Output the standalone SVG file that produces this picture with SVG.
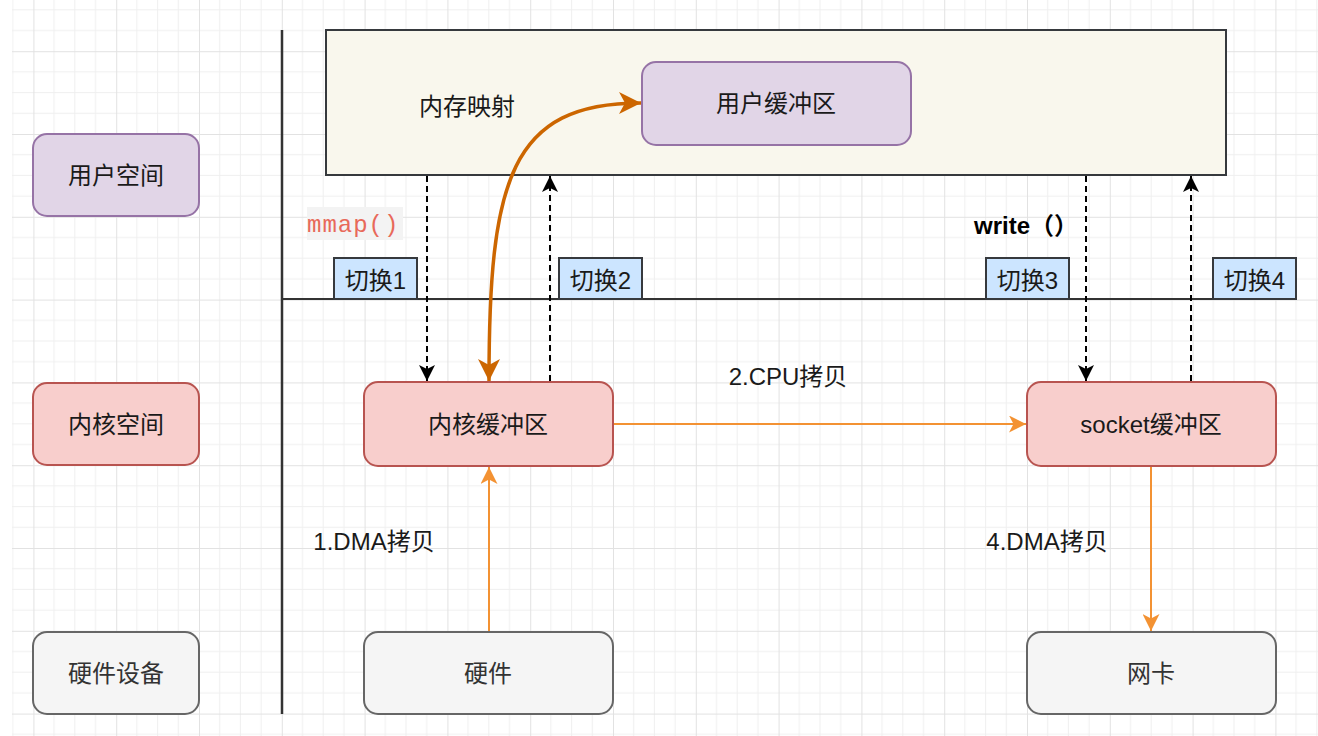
<svg xmlns="http://www.w3.org/2000/svg" width="1318" height="736" viewBox="0 0 1318 736">
<style>
.t{font-family:"Liberation Sans","Noto Sans CJK SC",sans-serif;font-size:24px;fill:#1a1a1a;text-anchor:middle}
.purple{fill:#e1d5e7;stroke:#9673a6;stroke-width:2}
.red{fill:#f8cecc;stroke:#b85450;stroke-width:2}
.grey{fill:#f5f5f5;stroke:#666666;stroke-width:2}
.sw{fill:#cce5ff;stroke:#36393d;stroke-width:2}
.dash{fill:none;stroke:#000;stroke-width:2;stroke-dasharray:6 4;marker-end:url(#ab)}
.org{fill:none;stroke:#f39233;stroke-width:2;marker-end:url(#ao)}
</style>
<defs>
<pattern id="grid" x="33.4" y="51.2" width="82.8" height="82.8" patternUnits="userSpaceOnUse">
<path d="M20.7,0V82.8M41.4,0V82.8M62.1,0V82.8M0,20.7H82.8M0,41.4H82.8M0,62.1H82.8" stroke="#efefef" stroke-width="1"/>
<path d="M0.5,0V82.8M0,0.5H82.8" stroke="#e2e2e2" stroke-width="1"/>
</pattern>
<marker id="ab" markerUnits="userSpaceOnUse" markerWidth="16" markerHeight="16" refX="16" refY="8" orient="auto" viewBox="0 0 16 16">
<path d="M0,0L16,8L0,16L4,8z" fill="#000"/>
</marker>
<marker id="ao" markerUnits="userSpaceOnUse" markerWidth="17" markerHeight="17" refX="17" refY="8.5" orient="auto" viewBox="0 0 17 17">
<path d="M0,0L17,8.5L0,17L4.5,8.5z" fill="#f39233"/>
</marker>
<marker id="ad" markerUnits="userSpaceOnUse" markerWidth="24" markerHeight="24" refX="22" refY="12" orient="auto-start-reverse" viewBox="0 0 24 24">
<path d="M0,1L22,12L0,23L6,12z" fill="#cc6600"/>
</marker>
</defs>
<rect x="0" y="0" width="1318" height="736" fill="#ffffff"/>
<rect x="12" y="0" width="1306" height="736" fill="url(#grid)"/>

<g id="axes">
<path d="M282,30V714" stroke="#333" stroke-width="2.5"/>
<path d="M282,299H1296" stroke="#333" stroke-width="2"/>
</g>

<g id="user-space"><rect class="purple" x="33" y="134" width="166" height="82" rx="14"/><text class="t" x="116" y="184">用户空间</text></g>
<g id="kernel-space"><rect class="red" x="33" y="383" width="166" height="82" rx="14"/><text class="t" x="116" y="433">内核空间</text></g>
<g id="hardware-devices"><rect class="grey" x="33" y="632" width="166" height="82" rx="14"/><text class="t" x="116" y="682" style="fill:#333">硬件设备</text></g>

<g id="mmap-region"><rect x="326" y="30" width="900" height="145" fill="#f9f7ed" stroke="#36393d" stroke-width="2"/><text class="t" x="467" y="115">内存映射</text></g>
<g id="user-buffer"><rect class="purple" x="642" y="62" width="269" height="83" rx="14"/><text class="t" x="776" y="112">用户缓冲区</text></g>
<g id="kernel-buffer"><rect class="red" x="364" y="382" width="249" height="84" rx="14"/><text class="t" x="488" y="433">内核缓冲区</text></g>
<g id="socket-buffer"><rect class="red" x="1027" y="382" width="249" height="84" rx="14"/><text class="t" x="1151" y="433">socket缓冲区</text></g>
<g id="hardware"><rect class="grey" x="364" y="632" width="249" height="82" rx="14"/><text class="t" x="488" y="682" style="fill:#333">硬件</text></g>
<g id="nic"><rect class="grey" x="1027" y="632" width="249" height="82" rx="14"/><text class="t" x="1151" y="682" style="fill:#333">网卡</text></g>

<g id="switch1"><rect class="sw" x="334" y="258" width="83" height="41"/><text class="t" x="375.5" y="289">切换1</text></g>
<g id="switch2"><rect class="sw" x="559" y="258" width="83" height="41"/><text class="t" x="600.5" y="289">切换2</text></g>
<g id="switch3"><rect class="sw" x="986" y="258" width="83" height="41"/><text class="t" x="1027.5" y="289">切换3</text></g>
<g id="switch4"><rect class="sw" x="1213" y="258" width="83" height="41"/><text class="t" x="1254.5" y="289">切换4</text></g>

<g id="mmap-label"><rect x="307" y="207" width="96" height="33" fill="#f3f3f3"/><text x="307" y="232" style="font-family:'Liberation Mono','DejaVu Sans Mono',monospace;font-size:24px;fill:#e8695a;letter-spacing:1px">mmap()</text></g>
<g id="write-label"><text x="974" y="234" style="font-family:'Liberation Sans','Noto Sans CJK SC',sans-serif;font-size:24px;font-weight:bold;fill:#000">write（）</text></g>

<g id="connectors">
<path class="dash" d="M427,176V381"/>
<path class="dash" d="M550,381V176"/>
<path class="dash" d="M1086,176V381"/>
<path class="dash" d="M1191,381V176"/>
<path class="org" d="M489,631V467"/>
<path class="org" d="M614,424H1026"/>
<path class="org" d="M1151,467V631"/>
<path d="M489,381C489,180 510,103 641,103" fill="none" stroke="#cc6600" stroke-width="3.5" marker-start="url(#ad)" marker-end="url(#ad)"/>
<text class="t" x="788" y="385">2.CPU拷贝</text>
<text class="t" x="374" y="550">1.DMA拷贝</text>
<text class="t" x="1047" y="550">4.DMA拷贝</text>
</g>
</svg>
